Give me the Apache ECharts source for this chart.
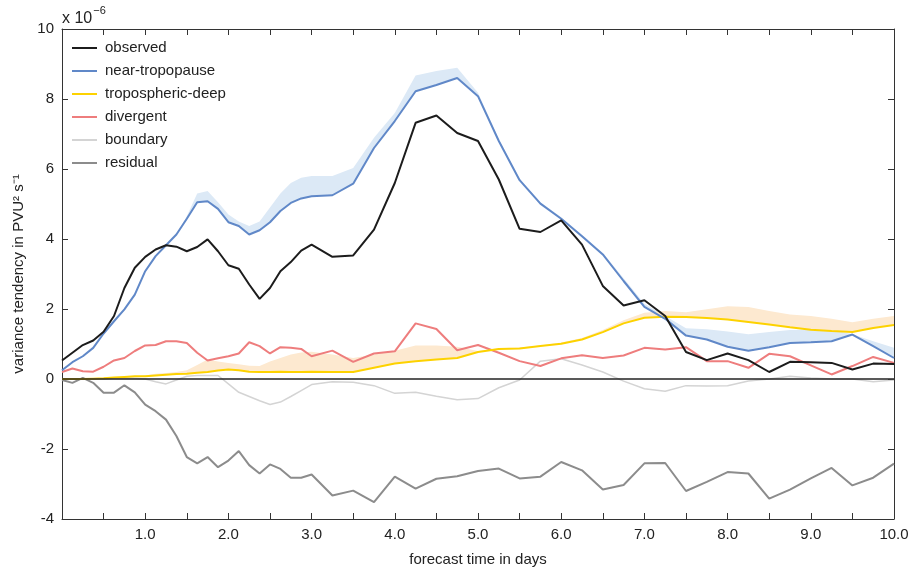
<!DOCTYPE html>
<html>
<head>
<meta charset="utf-8">
<script src="https://cdn.jsdelivr.net/npm/echarts@6/dist/echarts.min.js"></script>
<style>
html,body{margin:0;padding:0;background:#fff}
#main{width:914px;height:572px}
</style>
</head>
<body>
<div id="main"></div>
<script>
// forecast time (days): 3-hourly to day 3, then 6-hourly
var days = [0,0.125,0.25,0.375,0.5,0.625,0.75,0.875,1,1.125,1.25,1.375,1.5,1.625,1.75,1.875,2,2.125,2.25,2.375,2.5,2.625,2.75,2.875,3,
  3.25,3.5,3.75,4,4.25,4.5,4.75,5,5.25,5.5,5.75,6,6.25,6.5,6.75,7,7.25,7.5,7.75,8,8.25,8.5,8.75,9,9.25,9.5,9.75,10];

// values in 1e-6 PVU^2 s^-1
var observed = [0.53,0.75,0.97,1.10,1.35,1.80,2.60,3.18,3.49,3.70,3.82,3.78,3.65,3.77,3.99,3.65,3.25,3.15,2.70,2.29,2.60,3.08,3.34,3.67,3.84,
  3.49,3.53,4.27,5.60,7.32,7.53,7.03,6.80,5.70,4.29,4.20,4.53,3.84,2.66,2.10,2.25,1.80,0.77,0.54,0.73,0.54,0.20,0.49,0.48,0.46,0.27,0.44,0.43];
var nearTrop = [0.25,0.48,0.65,0.89,1.30,1.65,1.99,2.41,3.08,3.51,3.82,4.13,4.58,5.05,5.08,4.86,4.48,4.37,4.13,4.25,4.48,4.80,5.03,5.16,5.22,
  5.25,5.58,6.60,7.37,8.22,8.40,8.60,8.08,6.80,5.68,5.01,4.58,4.08,3.56,2.80,2.06,1.72,1.24,1.13,0.92,0.81,0.91,1.03,1.05,1.08,1.27,0.94,0.60];
var nearTropUpper = [0.25,0.48,0.65,0.89,1.30,1.65,1.99,2.41,3.08,3.51,3.82,4.13,4.65,5.30,5.37,5.05,4.70,4.50,4.37,4.50,4.90,5.30,5.60,5.75,5.80,
  5.80,6.03,6.89,7.60,8.67,8.80,8.89,8.18,6.85,5.72,5.05,4.62,4.12,3.60,2.88,2.15,1.80,1.45,1.42,1.36,1.28,1.34,1.40,1.41,1.41,1.28,1.08,0.89];
var tropDeep = [0.00,0.00,0.00,0.01,0.02,0.04,0.06,0.08,0.08,0.10,0.12,0.14,0.15,0.18,0.20,0.24,0.27,0.25,0.21,0.20,0.20,0.21,0.20,0.20,0.21,
  0.20,0.20,0.32,0.44,0.51,0.56,0.60,0.77,0.86,0.87,0.94,1.01,1.13,1.34,1.59,1.75,1.78,1.77,1.74,1.70,1.63,1.56,1.48,1.41,1.37,1.34,1.46,1.54];
var tropDeepUpper = [0.00,0.00,0.00,0.01,0.02,0.04,0.06,0.08,0.10,0.15,0.17,0.20,0.25,0.40,0.56,0.50,0.46,0.42,0.38,0.37,0.50,0.60,0.70,0.76,0.78,
  0.70,0.60,0.70,0.81,0.96,0.96,0.92,0.80,0.88,0.90,0.96,1.04,1.17,1.40,1.68,1.89,1.94,1.91,1.99,2.08,2.06,1.94,1.84,1.80,1.72,1.62,1.72,1.80];
var divergent = [0.20,0.30,0.22,0.21,0.35,0.53,0.60,0.80,0.96,0.97,1.08,1.08,1.03,0.75,0.53,0.59,0.65,0.73,1.05,0.94,0.73,0.91,0.89,0.86,0.65,
  0.81,0.49,0.73,0.79,1.59,1.43,0.82,0.97,0.75,0.51,0.37,0.59,0.68,0.60,0.67,0.89,0.84,0.91,0.51,0.51,0.32,0.72,0.65,0.39,0.13,0.37,0.63,0.46];
var boundary = [-0.03,0.00,0.00,0.00,0.00,0.02,0.03,0.02,0.00,-0.08,-0.14,-0.03,0.08,0.10,0.10,0.10,-0.14,-0.38,-0.50,-0.62,-0.73,-0.66,-0.50,-0.33,-0.16,
  -0.08,-0.09,-0.19,-0.41,-0.38,-0.49,-0.59,-0.56,-0.25,-0.03,0.51,0.58,0.40,0.20,-0.06,-0.28,-0.35,-0.19,-0.20,-0.19,-0.06,0.00,0.08,0.03,0.00,0.00,-0.08,-0.03];
var residual = [-0.03,-0.11,0.03,-0.11,-0.39,-0.39,-0.18,-0.38,-0.73,-0.92,-1.16,-1.63,-2.23,-2.41,-2.23,-2.52,-2.33,-2.06,-2.46,-2.70,-2.44,-2.57,-2.82,-2.82,-2.73,
  -3.33,-3.19,-3.52,-2.79,-3.13,-2.85,-2.78,-2.63,-2.56,-2.84,-2.79,-2.37,-2.61,-3.16,-3.03,-2.41,-2.40,-3.20,-2.94,-2.66,-2.70,-3.42,-3.16,-2.84,-2.54,-3.04,-2.82,-2.42];

var yTicks = [-4,-2,0,2,4,6,8,10];

var myChart = echarts.init(document.getElementById('main'));
var font = 'Liberation Sans, Arial, sans-serif';

function pairs(arr){
  return days.map(function(d,i){ return [d, arr[i]]; });
}
function line(name, arr, color, width){
  return {
    name:name, type:'line', data:pairs(arr), symbol:'none', color:color,
    lineStyle:{color:color, width:width}, xAxisIndex:0, yAxisIndex:0, z:3
  };
}
/* shaded range between lower line and upper envelope, one polygon */
function band(name, lo, up, color){
  return {
    name:name, type:'custom', silent:true, z:1,
    data:[[0,0]],
    renderItem:function(params, api){
      var pts = [];
      for(var i=0;i<days.length;i++) pts.push(api.coord([days[i], up[i]]));
      for(var j=days.length-1;j>=0;j--) pts.push(api.coord([days[j], lo[j]]));
      return {type:'polygon', shape:{points:pts}, style:{fill:color}};
    }
  };
}

var axisCol = '#333';
var option = {
  animation:false,
  backgroundColor:'#fff',
  textStyle:{fontFamily:font},
  grid:{left:62, right:20, top:29, bottom:52},
  graphic:[{
    type:'text', left:62, top:5,
    style:{
      text:'{a|x 10}{b|−6}',
      rich:{
        a:{fontSize:16, fontFamily:font, fill:'#222', padding:[6,0,0,0]},
        b:{fontSize:11, fontFamily:font, fill:'#222', verticalAlign:'top', padding:[0,0,8,1]}
      }
    }
  }],
  legend:{
    orient:'vertical', left:67, top:35, padding:5, icon:'rect', itemWidth:25, itemHeight:2, itemGap:7,
    textStyle:{fontSize:15, color:'#222', fontFamily:font, lineHeight:16, padding:[0,0,0,3]},
    data:['observed','near-tropopause','tropospheric-deep','divergent','boundary','residual']
  },
  xAxis:[{
    type:'value', min:0, max:10, interval:0.5, position:'bottom',
    axisLine:{onZero:false, lineStyle:{color:axisCol, width:1}},
    axisTick:{inside:true, length:6, lineStyle:{color:axisCol}},
    axisLabel:{fontSize:15, color:'#222', margin:8,
      formatter:function(v){ return (v>0 && v%1===0) ? v.toFixed(1) : ''; }},
    splitLine:{show:false},
    name:'forecast time in days', nameLocation:'middle', nameGap:33,
    nameTextStyle:{fontSize:15, color:'#222'}
  },{
    type:'value', min:0, max:10, interval:0.5, position:'top',
    axisLine:{onZero:false, lineStyle:{color:axisCol, width:1}},
    axisTick:{inside:true, length:6, lineStyle:{color:axisCol}},
    axisLabel:{show:false}, splitLine:{show:false}
  }],
  yAxis:[{
    type:'value', min:yTicks[0], max:yTicks[yTicks.length-1], interval:2, position:'left',
    axisLine:{show:true, onZero:false, lineStyle:{color:axisCol, width:1}},
    axisTick:{show:true, inside:true, length:6, lineStyle:{color:axisCol}},
    axisLabel:{fontSize:15, color:'#222', margin:8},
    splitLine:{show:false},
    name:'variance tendency in PVU² s⁻¹', nameLocation:'middle', nameGap:34,
    nameTextStyle:{fontSize:15, color:'#222'}
  },{
    type:'value', min:yTicks[0], max:yTicks[yTicks.length-1], interval:2, position:'right',
    axisLine:{show:true, onZero:false, lineStyle:{color:axisCol, width:1}},
    axisTick:{show:true, inside:true, length:6, lineStyle:{color:axisCol}},
    axisLabel:{show:false}, splitLine:{show:false}
  }],
  series:[
    band('ntBand', nearTrop, nearTropUpper, '#dce9f6'),
    band('tdBand', tropDeep, tropDeepUpper, '#fde9d0'),
    {name:'zero', type:'line', data:[], symbol:'none', silent:true, z:2,
     markLine:{silent:true, symbol:'none', label:{show:false},
       lineStyle:{color:'#222', width:1.5, type:'solid'}, data:[{yAxis:0}]}},
    line('boundary', boundary, '#d4d4d4', 1.5),
    line('residual', residual, '#8c8c8c', 2),
    line('divergent', divergent, '#ee7d7d', 2),
    line('tropospheric-deep', tropDeep, '#fdd200', 2),
    line('near-tropopause', nearTrop, '#6088c8', 2),
    line('observed', observed, '#1c1c1c', 2)
  ]
};
myChart.setOption(option, true);
</script>
</body>
</html>
